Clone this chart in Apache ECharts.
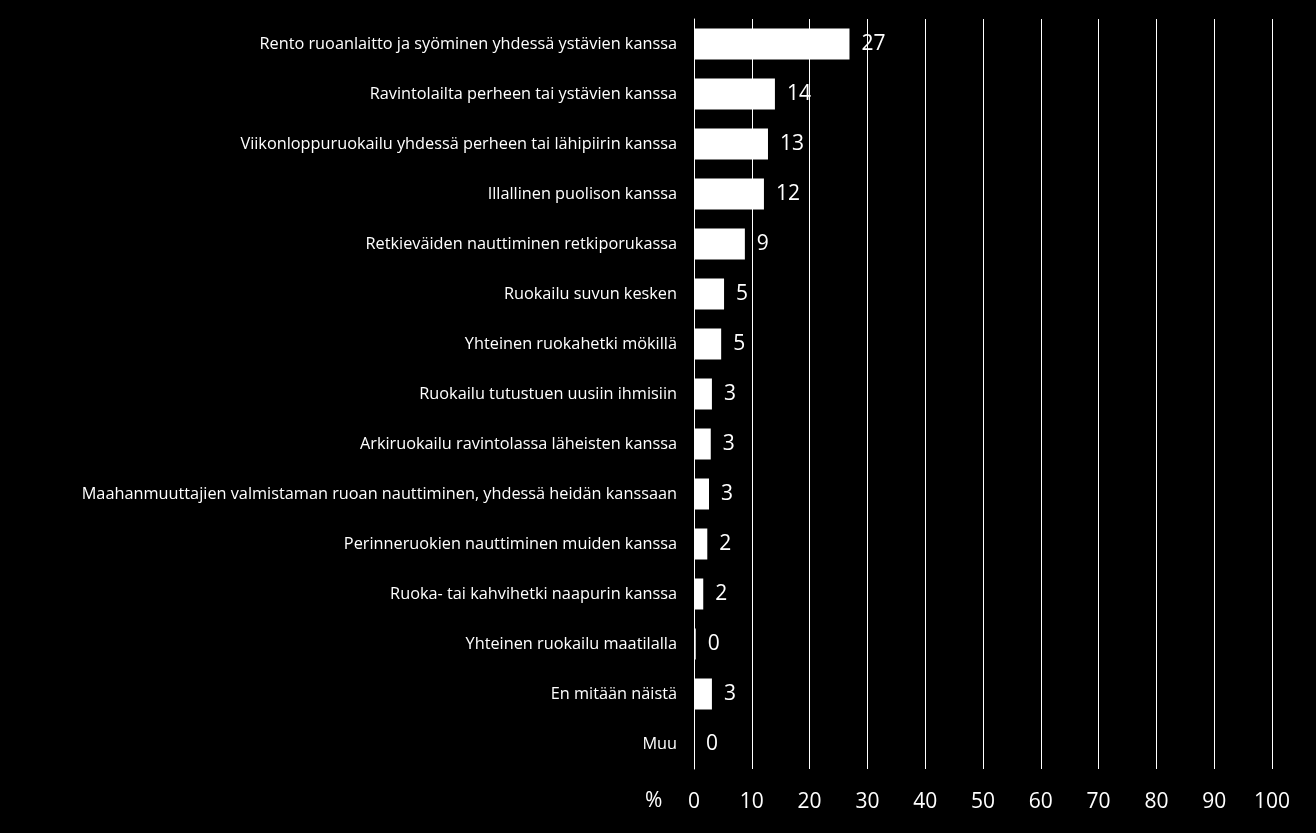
<!DOCTYPE html>
<html>
<head>
<meta charset="utf-8">
<script src="https://cdn.jsdelivr.net/npm/echarts@6/dist/echarts.min.js"></script>
<style>
html,body{margin:0;padding:0;background:#000;}
#chart{width:1316px;height:833px;}
</style>
</head>
<body>
<div id="chart"></div>
<script>
const categories = [
  "Rento ruoanlaitto ja syöminen yhdessä ystävien kanssa",
  "Ravintolailta perheen tai ystävien kanssa",
  "Viikonloppuruokailu yhdessä perheen tai lähipiirin kanssa",
  "Illallinen puolison kanssa",
  "Retkieväiden nauttiminen retkiporukassa",
  "Ruokailu suvun kesken",
  "Yhteinen ruokahetki mökillä",
  "Ruokailu tutustuen uusiin ihmisiin",
  "Arkiruokailu ravintolassa läheisten kanssa",
  "Maahanmuuttajien valmistaman ruoan nauttiminen, yhdessä heidän kanssaan",
  "Perinneruokien nauttiminen muiden kanssa",
  "Ruoka- tai kahvihetki naapurin kanssa",
  "Yhteinen ruokailu maatilalla",
  "En mitään näistä",
  "Muu"
];
const values = [26.9, 14.0, 12.8, 12.1, 8.8, 5.2, 4.7, 3.1, 2.9, 2.6, 2.3, 1.6, 0.3, 3.1, 0];
const xTicks = { min: 0, max: 100, interval: 10 };
const axisUnit = "%";

const chart = echarts.init(document.getElementById('chart'));
chart.setOption({
  backgroundColor: '#000',
  animation: false,
  grid: { left: 694, right: 44, top: 19, bottom: 64 },
  xAxis: {
    type: 'value',
    min: xTicks.min, max: xTicks.max, interval: xTicks.interval,
    axisLine: { show: false },
    axisTick: { show: false },
    splitLine: { show: true, lineStyle: { color: '#fff', width: 1 } },
    axisLabel: { color: '#fff', fontSize: 21, fontFamily: 'Open Sans', margin: 21, lineHeight: 24 }
  },
  yAxis: {
    type: 'category',
    inverse: true,
    data: categories,
    axisLine: { show: true, lineStyle: { color: '#fff', width: 1 } },
    axisTick: { show: false },
    splitLine: { show: false },
    axisLabel: { color: '#fff', fontSize: 16.3, fontFamily: 'Open Sans', margin: 17 }
  },
  graphic: [{
    type: 'text',
    left: 645, top: 791,
    style: { text: axisUnit, fill: '#fff', fontSize: 21, fontFamily: 'Open Sans' }
  }],
  series: [{
    type: 'bar',
    data: values,
    barWidth: 31,
    itemStyle: { color: '#fff' },
    label: {
      show: true, position: 'right', distance: 12,
      color: '#fff', fontSize: 21, fontFamily: 'Open Sans',
      formatter: p => Math.round(p.value)
    }
  }]
});
</script>
</body>
</html>
